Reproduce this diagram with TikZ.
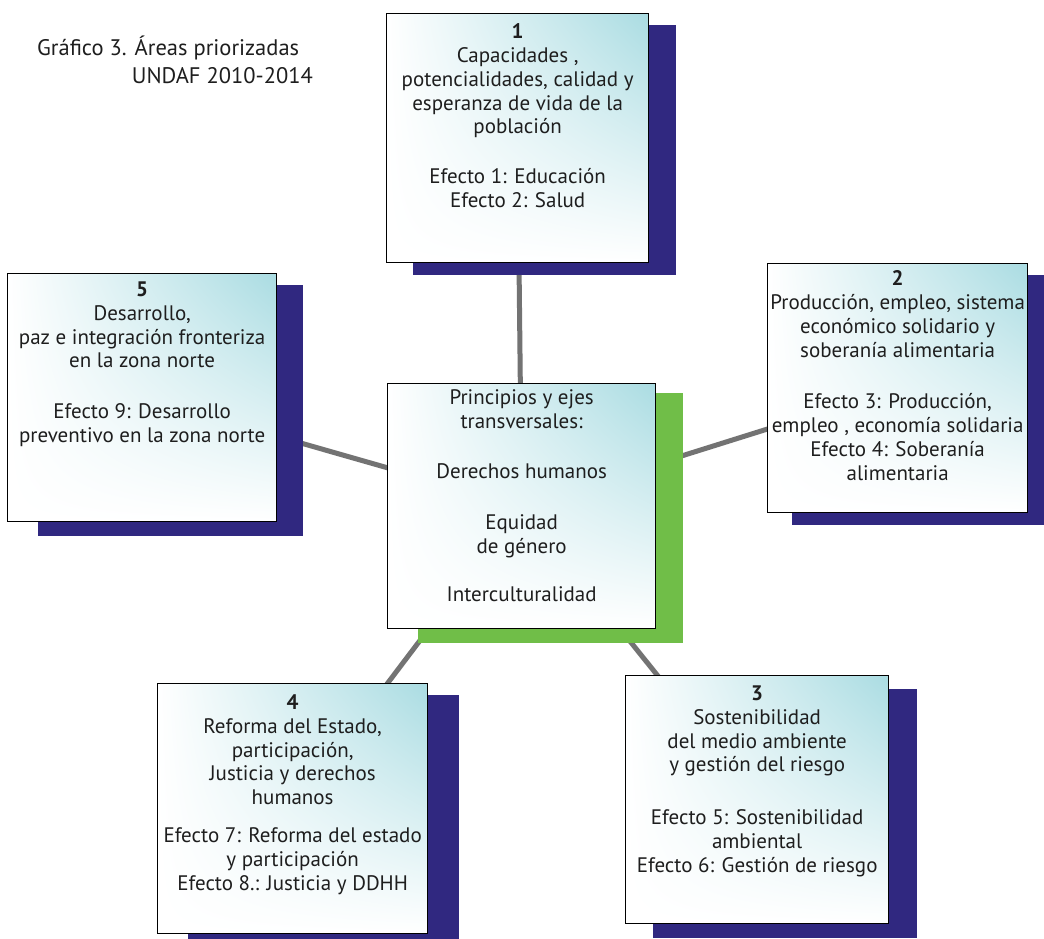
\documentclass[tikz,border=0pt]{standalone}
\usepackage{fontspec}
\setmainfont{PT Sans}
\usetikzlibrary{shadings}
\pgfdeclarelayer{paper}
\pgfdeclarelayer{lines}
\pgfdeclarelayer{shadows}
\pgfsetlayers{paper,lines,shadows,main}
\definecolor{shadowblue}{RGB}{48,40,128}
\definecolor{shadowgreen}{RGB}{112,190,72}
\definecolor{tint}{RGB}{170,220,226}
\definecolor{ink}{RGB}{30,30,30}
\definecolor{linkgray}{RGB}{115,115,115}
\begin{document}
\begin{tikzpicture}[x=1pt,y=-1pt,
  areabox/.style={draw=black, line width=1.3pt, rectangle, inner sep=0pt, anchor=north west,
    upper right=tint, upper left=white, lower left=white, lower right=white},
  boxtext/.style={anchor=north, inner sep=0pt, align=center, text=ink,
    font=\fontsize{21pt}{23.8pt}\selectfont},
  titletext/.style={inner sep=0pt, text=ink, font=\fontsize{22.5pt}{26pt}\selectfont},
  link/.style={draw=linkgray, line width=5pt},
  bshadow/.style={fill=shadowblue},
  gshadow/.style={fill=shadowgreen}]
\useasboundingbox (0,0) rectangle (1044,938);
\begin{pgfonlayer}{paper}
\fill[white] (0,0) rectangle (1044,938);
\end{pgfonlayer}

% boxes
\node[areabox, minimum width=262pt, minimum height=249pt] (b1) at (386,13) {};
\node[areabox, minimum width=260pt, minimum height=249pt] (b2) at (767,263) {};
\node[areabox, minimum width=263pt, minimum height=248pt] (b3) at (625,675) {};
\node[areabox, minimum width=270pt, minimum height=250pt] (b4) at (157,683) {};
\node[areabox, minimum width=269pt, minimum height=248pt] (b5) at (7,273) {};
\node[areabox, minimum width=268pt, minimum height=245pt] (c) at (387,383) {};

% shadows
\begin{pgfonlayer}{shadows}
\fill[bshadow] ([shift={(27,12)}]b1.north west) rectangle ([shift={(27,12)}]b1.south east);
\fill[bshadow] ([shift={(25,12)}]b2.north west) rectangle ([shift={(25,12)}]b2.south east);
\fill[bshadow] ([shift={(28,14)}]b3.north west) rectangle ([shift={(28,14)}]b3.south east);
\fill[bshadow] ([shift={(31,12)}]b4.north west) rectangle ([shift={(31,12)}]b4.south east);
\fill[bshadow] ([shift={(31,12)}]b5.north west) rectangle ([shift={(26,14)}]b5.south east);
\fill[gshadow] ([shift={(31,10)}]c.north west) rectangle ([shift={(27,14)}]c.south east);
\end{pgfonlayer}

% connectors
\begin{pgfonlayer}{lines}
\draw[link] (c.center) -- (b1.center);
\draw[link] (c.center) -- (b2.center);
\draw[link] (c.center) -- (b3.center);
\draw[link] (c.center) -- (b4.center);
\draw[link] (c.center) -- (b5.center);
\end{pgfonlayer}

% texts
\node[boxtext] (t1) at ([yshift=-10.5pt]b1.north) {\textbf{1}\\
Capacidades ,\\ potencialidades, calidad y\\ esperanza de vida de la\\ población\\[26pt]
Efecto 1: Educación\\ Efecto 2: Salud};
\node[boxtext] (t2) at ([yshift=-7.5pt]b2.north) {\textbf{2}\\
Producción, empleo, sistema\\ económico solidario y\\ soberanía alimentaria\\[28pt]
Efecto 3: Producción,\\ empleo , economía solidaria\\ Efecto 4: Soberanía\\ alimentaria};
\node[boxtext] (t3) at ([yshift=-10.5pt]b3.north) {\textbf{3}\\
Sostenibilidad\\ del medio ambiente\\ y gestión del riesgo\\[29pt]
Efecto 5: Sostenibilidad\\ ambiental\\ Efecto 6: Gestión de riesgo};
\node[boxtext] (t4) at ([yshift=-11.5pt]b4.north) {\textbf{4}\\
Reforma del Estado,\\ participación,\\ Justicia y derechos\\ humanos\\[14pt]
Efecto 7: Reforma del estado\\ y participación\\ Efecto 8.: Justicia y DDHH};
\node[boxtext] (t5) at ([yshift=-8.5pt]b5.north) {\textbf{5}\\
Desarrollo,\\ paz e integración fronteriza\\ en la zona norte\\[27pt]
Efecto 9: Desarrollo\\ preventivo en la zona norte};
\node[boxtext] (tc) at ([yshift=-6.5pt]c.north) {Principios y ejes\\ transversales:\\[26pt]
Derechos humanos\\[28pt] Equidad\\ de género\\[24pt] Interculturalidad};

% title
\node[titletext, anchor=base west] (title1) at (37,55) {Gráfico 3. Áreas priorizadas};
\node[titletext, anchor=base east] (title2) at (313,83) {UNDAF 2010-2014};
\end{tikzpicture}
\end{document}
